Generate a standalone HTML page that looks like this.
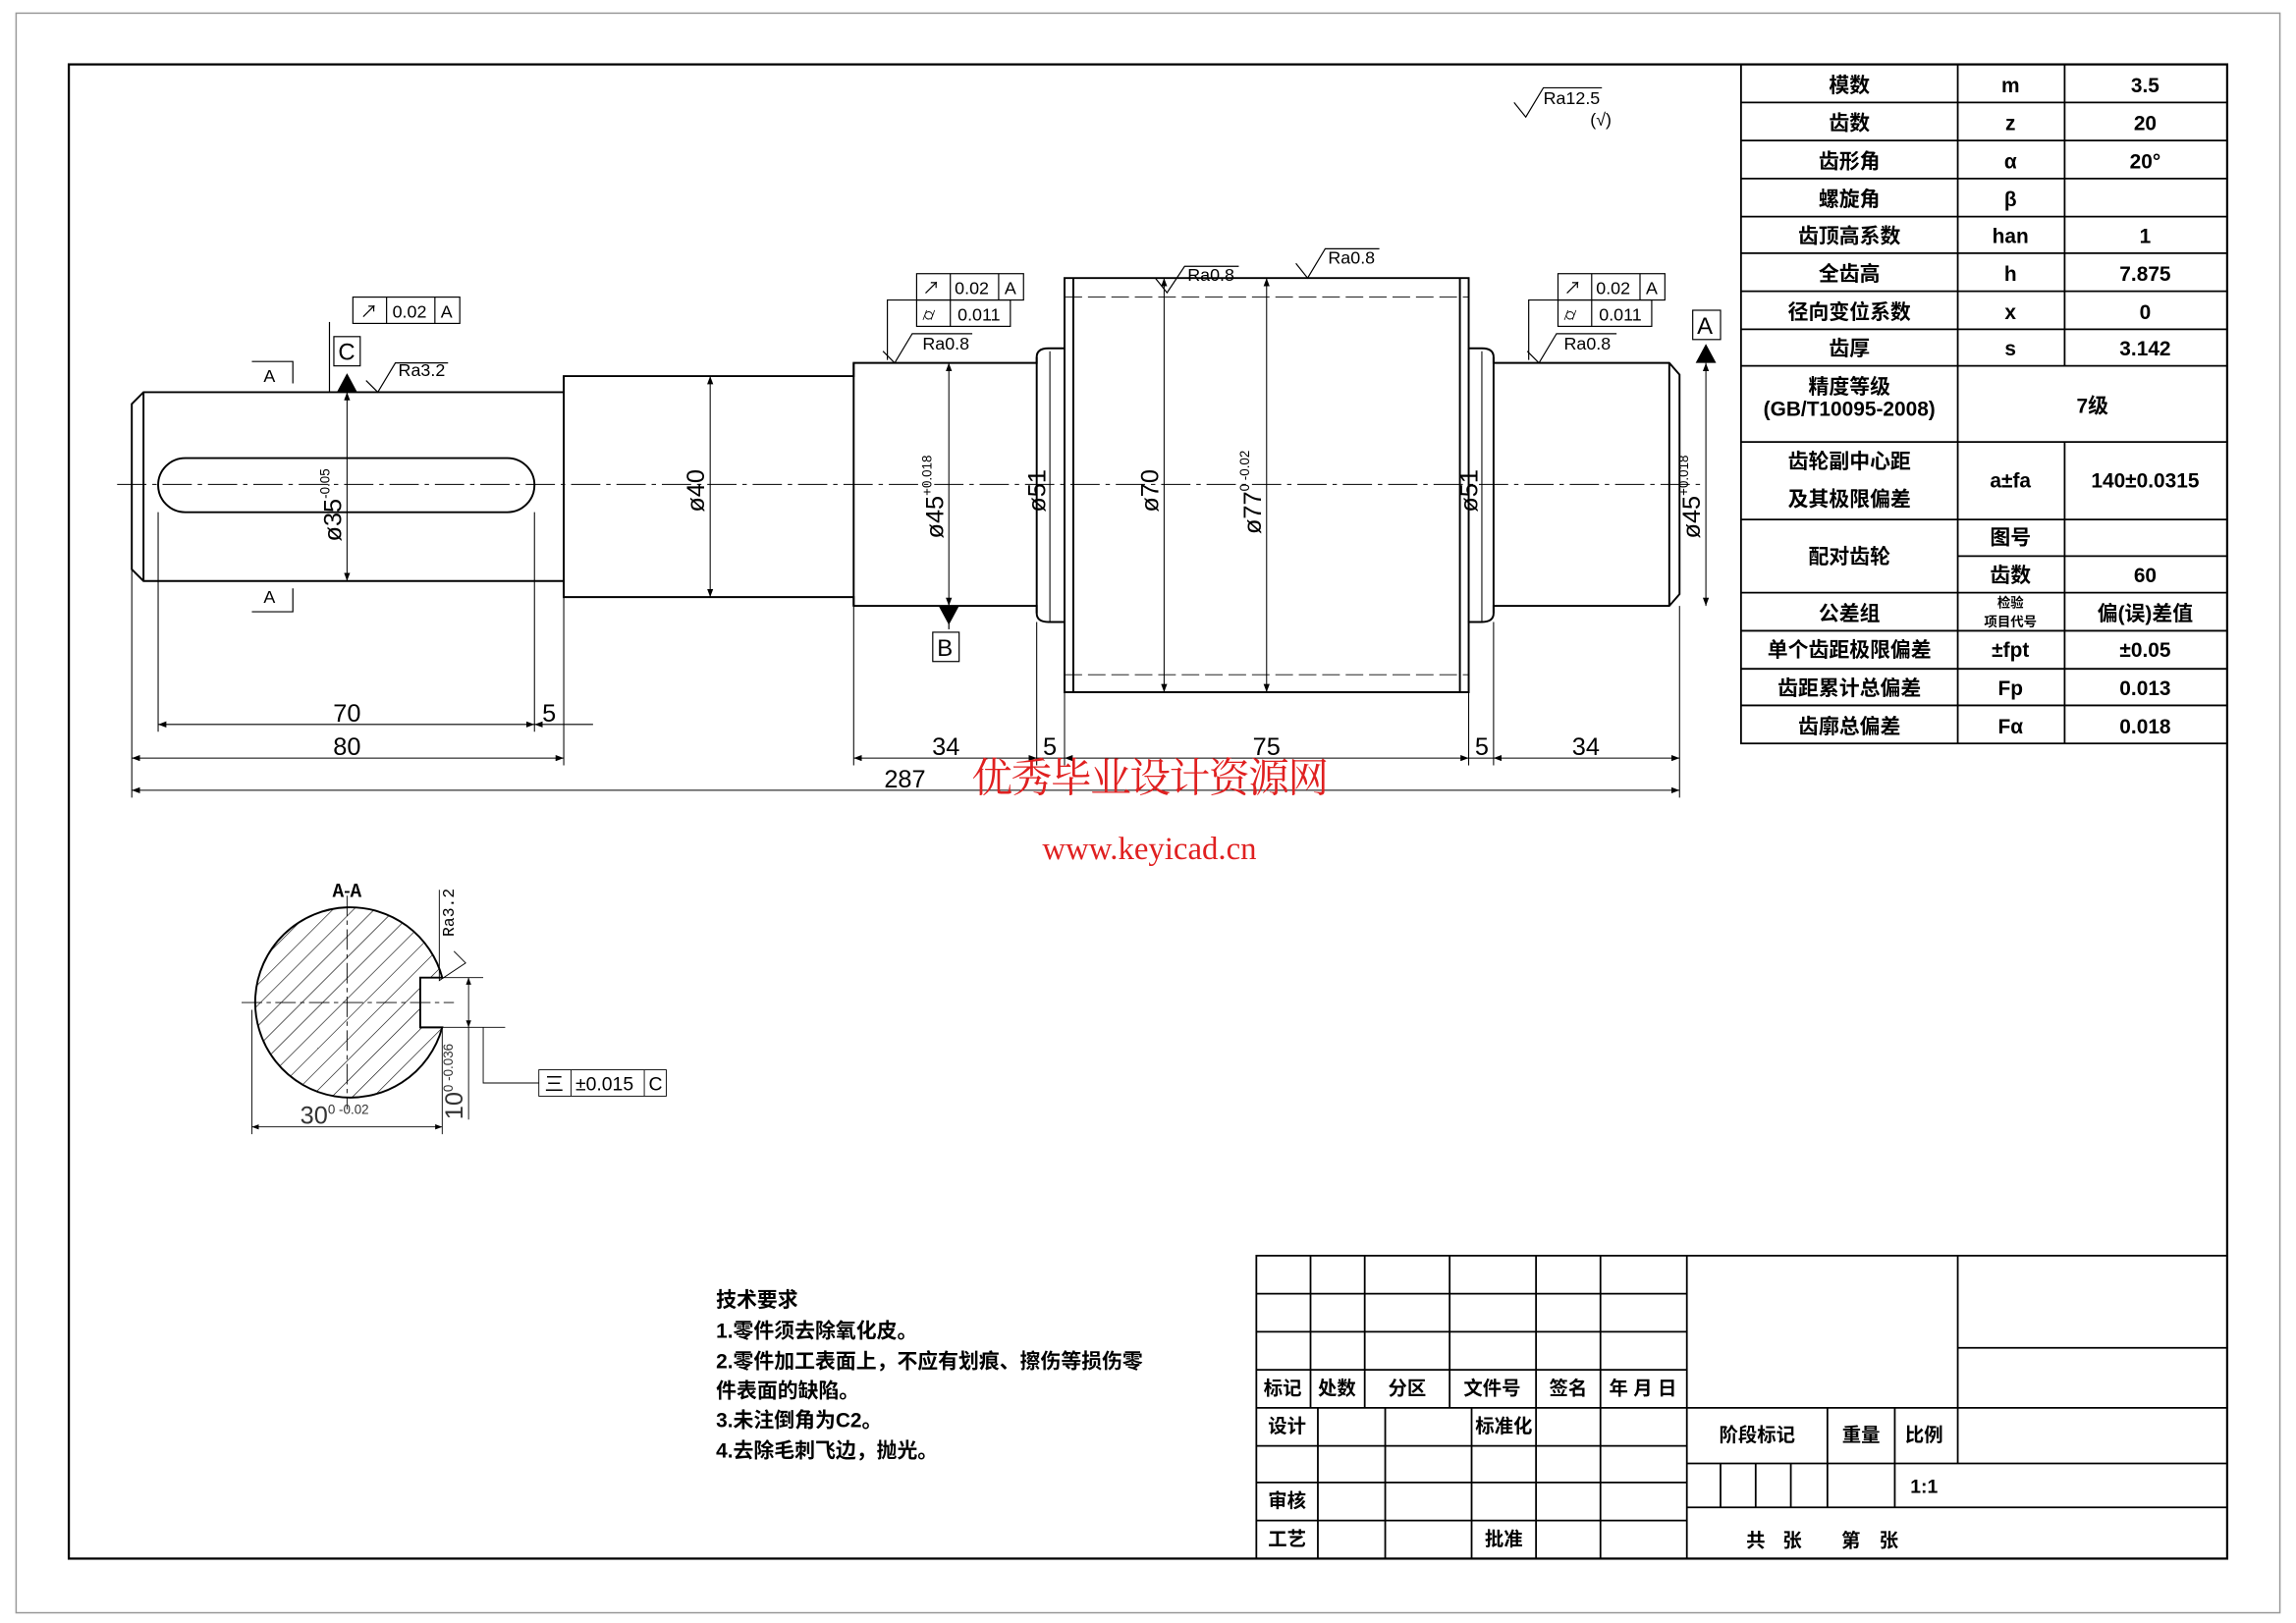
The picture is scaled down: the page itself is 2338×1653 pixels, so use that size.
<!DOCTYPE html>
<html><head><meta charset="utf-8"><style>
html,body{margin:0;padding:0;background:#fff;}
svg{display:block;}
text{font-family:"Liberation Sans","Noto Sans CJK SC",sans-serif;fill:#000;}
.c{font-family:"Noto Sans CJK SC","WenQuanYi Zen Hei",sans-serif;font-weight:bold;}
.m{font-family:"Liberation Mono","Noto Sans CJK SC",monospace;}
.dim{font-family:"Liberation Sans",sans-serif;fill:#333;font-size:17px;}
</style></head><body>
<svg width="2338" height="1653" viewBox="0 0 1568 1109" preserveAspectRatio="none" xmlns="http://www.w3.org/2000/svg">
<defs>
<pattern id="h" width="10" height="10" patternUnits="userSpaceOnUse" patternTransform="rotate(45)"><line x1="0" y1="0" x2="0" y2="10" stroke="#000" stroke-width="0.8"/></pattern>
<marker id="a" markerWidth="8" markerHeight="6" refX="8" refY="3" orient="auto-start-reverse"><path d="M0,0L8,3L0,6z" fill="#000"/></marker>
</defs>
<rect x="11" y="9" width="1546" height="1093" fill="none" stroke="#999" stroke-width="1"/>
<rect x="47" y="44" width="1474" height="1021" fill="none" stroke="#000" stroke-width="1.5"/>

<line x1="80" y1="331" x2="1165" y2="331" stroke="#000" stroke-width="0.6" stroke-dasharray="20,4,3,4"/>

<g fill="none" stroke="#000" stroke-width="1.3">
<path d="M98,268 L385,268 L385,257 L583,257 L583,248 L708,248 L708,244 Q708,238 716,238 L727,238 L727,190 L1003,190 L1003,238 L1012,238 Q1020,238 1020,244 L1020,248 L1140,248 L1147,256 L1147,406 L1140,414 L1020,414 L1020,419 Q1020,425 1012,425 L1003,425 L1003,473 L727,473 L727,425 L716,425 Q708,425 708,419 L708,414 L583,414 L583,408 L385,408 L385,397 L98,397 L90,389 L90,276 Z"/>
<line x1="98" y1="268" x2="98" y2="397"/>
<line x1="1140" y1="248" x2="1140" y2="414"/>
<line x1="385" y1="257" x2="385" y2="408"/>
<line x1="583" y1="248" x2="583" y2="414"/>
<line x1="708" y1="244" x2="708" y2="419"/>
<line x1="727" y1="238" x2="727" y2="425"/>
<line x1="1003" y1="238" x2="1003" y2="425"/>
<line x1="1020" y1="244" x2="1020" y2="419"/>
<line x1="733" y1="190" x2="733" y2="473"/>
<line x1="997" y1="190" x2="997" y2="473"/>
<rect x="108" y="313" width="257" height="37" rx="18.5"/>
</g>
<line x1="727" y1="203" x2="1003" y2="203" stroke="#000" stroke-width="0.6" stroke-dasharray="12,4"/>
<line x1="727" y1="461" x2="1003" y2="461" stroke="#000" stroke-width="0.6" stroke-dasharray="12,4"/>

<g stroke="#000" stroke-width="0.7" fill="none">
<line x1="237" y1="268" x2="237" y2="397" marker-start="url(#a)" marker-end="url(#a)"/>
<line x1="485" y1="257" x2="485" y2="408" marker-start="url(#a)" marker-end="url(#a)"/>
<line x1="648" y1="248" x2="648" y2="414" marker-start="url(#a)" marker-end="url(#a)"/>
<line x1="717" y1="240" x2="717" y2="425"/>
<line x1="795" y1="190" x2="795" y2="473" marker-start="url(#a)" marker-end="url(#a)"/>
<line x1="865" y1="190" x2="865" y2="473" marker-start="url(#a)" marker-end="url(#a)"/>
<line x1="1012" y1="240" x2="1012" y2="425"/>
<line x1="1165" y1="248" x2="1165" y2="414" marker-start="url(#a)" marker-end="url(#a)"/>
</g>
<g class="dim">
<text transform="translate(233,370) rotate(-90)">ø35<tspan font-size="9" dy="-8">-0.05</tspan></text>
<text transform="translate(481,350) rotate(-90)">ø40</text>
<text transform="translate(644,368) rotate(-90)">ø45<tspan font-size="9" dy="-8">+0.018</tspan></text>
<text transform="translate(714,350) rotate(-90)">ø51</text>
<text transform="translate(791,350) rotate(-90)">ø70</text>
<text transform="translate(861,365) rotate(-90)">ø77<tspan font-size="9" dy="-8">0 -0.02</tspan></text>
<text transform="translate(1009,350) rotate(-90)">ø51</text>
<text transform="translate(1161,368) rotate(-90)">ø45<tspan font-size="9" dy="-8">+0.018</tspan></text>
</g>

<g stroke="#000" stroke-width="0.7" fill="none">
<line x1="108" y1="350" x2="108" y2="500"/><line x1="365" y1="350" x2="365" y2="500"/>
<line x1="90" y1="389" x2="90" y2="545"/><line x1="385" y1="408" x2="385" y2="523"/>
<line x1="583" y1="414" x2="583" y2="523"/><line x1="708" y1="425" x2="708" y2="523"/>
<line x1="727" y1="473" x2="727" y2="523"/><line x1="1003" y1="473" x2="1003" y2="523"/>
<line x1="1020" y1="425" x2="1020" y2="523"/><line x1="1147" y1="414" x2="1147" y2="545"/>
<line x1="108" y1="495" x2="365" y2="495" marker-start="url(#a)" marker-end="url(#a)"/>
<line x1="365" y1="495" x2="405" y2="495" marker-start="url(#a)"/>
<line x1="90" y1="518" x2="385" y2="518" marker-start="url(#a)" marker-end="url(#a)"/>
<line x1="583" y1="518" x2="708" y2="518" marker-start="url(#a)" marker-end="url(#a)"/>
<line x1="708" y1="518" x2="727" y2="518"/>
<line x1="727" y1="518" x2="1003" y2="518" marker-start="url(#a)" marker-end="url(#a)"/>
<line x1="1003" y1="518" x2="1020" y2="518"/>
<line x1="1020" y1="518" x2="1147" y2="518" marker-start="url(#a)" marker-end="url(#a)"/>
<line x1="90" y1="540" x2="1147" y2="540" marker-start="url(#a)" marker-end="url(#a)"/>
</g>
<g class="dim" text-anchor="middle">
<text x="237" y="493">70</text><text x="375" y="493">5</text><text x="237" y="516">80</text>
<text x="646" y="516">34</text><text x="717" y="516">5</text><text x="865" y="516">75</text>
<text x="1012" y="516">5</text><text x="1083" y="516">34</text><text x="618" y="538">287</text>
</g>

<g stroke="#000" stroke-width="0.8" fill="none">
<polyline points="172,247 200,247 200,262"/><polyline points="172,418 200,418 200,402"/>
<line x1="225" y1="220" x2="225" y2="268"/>
<rect x="241" y="203" width="73" height="18"/><line x1="264" y1="203" x2="264" y2="221"/><line x1="297" y1="203" x2="297" y2="221"/>
<rect x="228" y="230" width="18" height="20"/>
<rect x="637" y="432" width="18" height="20"/>
<rect x="1156" y="212" width="19" height="20"/>
<rect x="626" y="187" width="73" height="18"/><line x1="649" y1="187" x2="649" y2="205"/><line x1="682" y1="187" x2="682" y2="205"/>
<rect x="626" y="205" width="64" height="18"/><line x1="649" y1="205" x2="649" y2="223"/>
<polyline points="626,205 606,205 606,246"/>
<rect x="1064" y="187" width="73" height="18"/><line x1="1087" y1="187" x2="1087" y2="205"/><line x1="1120" y1="187" x2="1120" y2="205"/>
<rect x="1064" y="205" width="64" height="18"/><line x1="1087" y1="205" x2="1087" y2="223"/>
<polyline points="1064,205 1044,205 1044,246"/>
<line x1="648" y1="414" x2="648" y2="430"/>
<polyline points="250,260 258,268 270,248 306,248"/>
<polyline points="603,240 611,248 623,228 664,228"/>
<polyline points="1043,240 1051,248 1063,228 1104,228"/>
<polyline points="789,190 797,200 809,182 846,182"/>
<polyline points="885,180 893,190 905,170 942,170"/>
<polyline points="1034,70 1042,80 1054,60 1094,60"/>
</g>
<polygon points="230,268 244,268 237,255" fill="#000"/>
<polygon points="641,414 655,414 648,427" fill="#000"/>
<polygon points="1158,248 1172,248 1165,235" fill="#000"/>
<g font-size="12" class="m">
<text x="180" y="261">A</text><text x="180" y="412">A</text>
<text x="268" y="217">0.02</text><text x="301" y="217">A</text><text x="246" y="217">↗</text>
<text x="231" y="246" font-size="16">C</text><text x="640" y="448" font-size="16">B</text><text x="1159" y="228" font-size="16">A</text>
<text x="652" y="201">0.02</text><text x="686" y="201">A</text><text x="630" y="201">↗</text><text x="654" y="219">0.011</text><text x="630" y="219">⌭</text>
<text x="1090" y="201">0.02</text><text x="1124" y="201">A</text><text x="1068" y="201">↗</text><text x="1092" y="219">0.011</text><text x="1068" y="219">⌭</text>
<text x="272" y="257">Ra3.2</text><text x="630" y="239">Ra0.8</text><text x="1068" y="239">Ra0.8</text>
<text x="811" y="192">Ra0.8</text><text x="907" y="180">Ra0.8</text><text x="1054" y="71">Ra12.5</text><text x="1086" y="86">(√)</text>
</g>

<text x="785" y="541" text-anchor="middle" font-size="28" style="fill:#e02020;font-family:'Noto Serif CJK SC','Noto Sans CJK SC',serif;letter-spacing:-1px">优秀毕业设计资源网</text>
<text x="785" y="587" text-anchor="middle" font-size="22" style="fill:#e02020;font-family:'Liberation Serif',serif">www.keyicad.cn</text>

<path d="M287,668 L302,668 A65,65 0 0 0 237,620 A65,65 0 1 0 302,702 L287,702 Z" fill="url(#h)" stroke="#000" stroke-width="1.3"/>
<g stroke="#000" stroke-width="0.6" fill="none">
<line x1="165" y1="685" x2="310" y2="685" stroke-dasharray="14,3,3,3"/><line x1="237" y1="612" x2="237" y2="758" stroke-dasharray="14,3,3,3"/>
<line x1="172" y1="690" x2="172" y2="775"/><line x1="302" y1="702" x2="302" y2="775"/>
<line x1="172" y1="770" x2="302" y2="770" marker-start="url(#a)" marker-end="url(#a)"/>
<line x1="302" y1="668" x2="330" y2="668"/><line x1="302" y1="702" x2="345" y2="702"/>
<line x1="320" y1="668" x2="320" y2="702" marker-start="url(#a)" marker-end="url(#a)"/>
<line x1="320" y1="702" x2="320" y2="765"/>
<polyline points="330,702 330,740 368,740"/>
<rect x="368" y="731" width="87" height="18"/><line x1="390" y1="731" x2="390" y2="749"/><line x1="440" y1="731" x2="440" y2="749"/>
<polyline points="310,650 318,658 300,670 300,608"/>
</g>
<text x="237" y="613" font-size="12" text-anchor="middle" class="c">A-A</text>
<text x="205" y="768" class="dim">30<tspan font-size="9" dy="-7">0 -0.02</tspan></text>
<text transform="translate(316,765) rotate(-90)" class="dim">10<tspan font-size="9" dy="-7">0 -0.036</tspan></text>
<text transform="translate(310,640) rotate(-90)" font-size="11" class="m">Ra3.2</text>
<text x="372" y="745" font-size="13">三</text><text x="393" y="745" font-size="13">±0.015</text><text x="443" y="745" font-size="13">C</text>

<g class="c" font-size="14">
<text x="489" y="893">技术要求</text>
<text x="489" y="914">1.零件须去除氧化皮。</text>
<text x="489" y="935">2.零件加工表面上，不应有划痕、擦伤等损伤零</text>
<text x="489" y="955">件表面的缺陷。</text>
<text x="489" y="975">3.未注倒角为C2。</text>
<text x="489" y="996">4.去除毛刺飞边，抛光。</text>
</g>

<g stroke="#000" stroke-width="1.2" fill="none">
<rect x="1189" y="44" width="332" height="464"/>
<line x1="1337" y1="44" x2="1337" y2="508"/>
<line x1="1410" y1="44" x2="1410" y2="250"/><line x1="1410" y1="302" x2="1410" y2="508"/>
<path d="M1189,70H1521M1189,96H1521M1189,122H1521M1189,148H1521M1189,173H1521M1189,199H1521M1189,225H1521M1189,250H1521M1189,302H1521M1189,355H1521M1337,380H1521M1189,405H1521M1189,431H1521M1189,457H1521M1189,482H1521"/>
</g>
<g class="c" font-size="14" text-anchor="middle">
<text x="1263" y="63">模数</text><text x="1373" y="63">m</text><text x="1465" y="63">3.5</text>
<text x="1263" y="89">齿数</text><text x="1373" y="89">z</text><text x="1465" y="89">20</text>
<text x="1263" y="115">齿形角</text><text x="1373" y="115">α</text><text x="1465" y="115">20°</text>
<text x="1263" y="141">螺旋角</text><text x="1373" y="141">β</text>
<text x="1263" y="166">齿顶高系数</text><text x="1373" y="166">han</text><text x="1465" y="166">1</text>
<text x="1263" y="192">全齿高</text><text x="1373" y="192">h</text><text x="1465" y="192">7.875</text>
<text x="1263" y="218">径向变位系数</text><text x="1373" y="218">x</text><text x="1465" y="218">0</text>
<text x="1263" y="243">齿厚</text><text x="1373" y="243">s</text><text x="1465" y="243">3.142</text>
<text x="1263" y="269">精度等级</text><text x="1263" y="284">(GB/T10095-2008)</text><text x="1429" y="282">7级</text>
<text x="1263" y="320">齿轮副中心距</text><text x="1263" y="346">及其极限偏差</text><text x="1373" y="333">a±fa</text><text x="1465" y="333">140±0.0315</text>
<text x="1263" y="385">配对齿轮</text><text x="1373" y="372">图号</text><text x="1373" y="398">齿数</text><text x="1465" y="398">60</text>
<text x="1263" y="424">公差组</text><text x="1373" y="415" font-size="9">检验</text><text x="1373" y="428" font-size="9">项目代号</text><text x="1465" y="424">偏(误)差值</text>
<text x="1263" y="449">单个齿距极限偏差</text><text x="1373" y="449">±fpt</text><text x="1465" y="449">±0.05</text>
<text x="1263" y="475">齿距累计总偏差</text><text x="1373" y="475">Fp</text><text x="1465" y="475">0.013</text>
<text x="1263" y="501">齿廓总偏差</text><text x="1373" y="501">Fα</text><text x="1465" y="501">0.018</text>
</g>

<g stroke="#000" stroke-width="1.2" fill="none">
<rect x="858" y="858" width="663" height="207"/>
<path d="M858,884H1152M858,910H1152M858,936H1152M858,962H1337M858,988H1152M858,1013H1152M858,1039H1152"/>
<path d="M895,858V962M932,858V962M990,858V962M1049,858V962M1093,858V962"/>
<path d="M900,962V1065M946,962V1065M1005,962V1065M1049,962V1065M1093,962V1065"/>
<line x1="1152" y1="858" x2="1152" y2="1065"/>
<line x1="1337" y1="858" x2="1337" y2="1000"/>
<path d="M1337,921H1521M1337,962H1521"/>
<path d="M1152,1000H1521M1152,1030H1521"/>
<path d="M1248,962V1030M1294,962V1030M1175,1000V1030M1199,1000V1030M1223,1000V1030"/>
</g>
<g class="c" font-size="13" text-anchor="middle">
<text x="876" y="953">标记</text><text x="913" y="953">处数</text><text x="961" y="953">分区</text><text x="1019" y="953">文件号</text><text x="1071" y="953">签名</text><text x="1122" y="953">年 月 日</text>
<text x="879" y="979">设计</text><text x="1027" y="979">标准化</text>
<text x="879" y="1030">审核</text><text x="879" y="1056">工艺</text><text x="1027" y="1056">批准</text>
<text x="1200" y="985">阶段标记</text><text x="1271" y="985">重量</text><text x="1314" y="985">比例</text>
<text x="1314" y="1020">1:1</text>
<text x="1199" y="1057">共</text><text x="1224" y="1057">张</text><text x="1264" y="1057">第</text><text x="1290" y="1057">张</text>
</g>
</svg>
</body></html>
